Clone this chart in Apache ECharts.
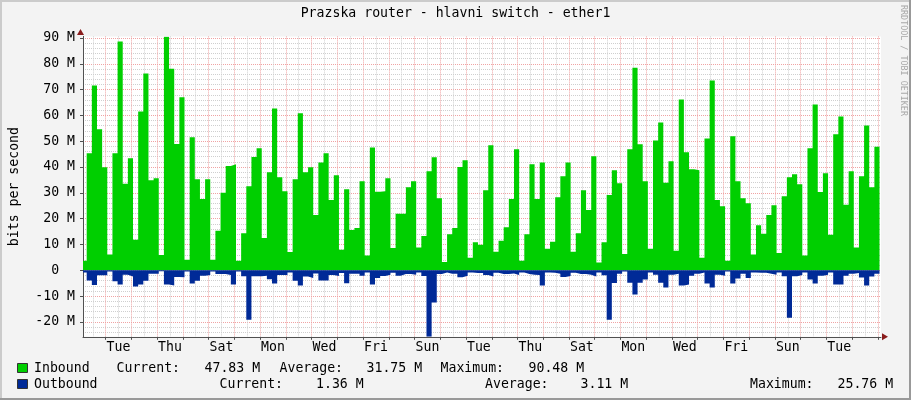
<!DOCTYPE html>
<html><head><meta charset="utf-8">
<script src="https://cdn.jsdelivr.net/npm/echarts@6/dist/echarts.min.js"></script>
<style>html,body{margin:0;padding:0;background:#f3f3f3}#c{width:911px;height:400px}</style>
</head><body><div id="c"></div>
<script>
// ---- data (hours are relative to the first midnight shown, Tue 00:00) ----
const TITLE = 'Prazska router - hlavni switch - ether1';
const Y_NAME = 'bits per second';
const STEP_HOURS = 4.8;
const FIRST_STEP_START = -22.47;
const X_MIN = -21.11, X_MAX = 722.9;
const Y_MIN = -25.75, Y_MAX = 90.6;

// Inbound, Mbit/s, one value per 4.8 h step
const INBOUND_M = [
 3.7,45.3,71.6,54.6,39.9,6.1,45.3,88.6,33.5,43.4,
 11.8,61.5,76.2,34.9,35.7,5.9,90.48,78.1,48.9,67.0,
 4.1,51.5,35.3,27.6,35.3,4.1,15.3,30.0,40.4,41.1,
 3.7,14.4,32.6,43.9,47.3,12.5,38.0,62.7,36.0,30.6,
 7.1,35.3,60.8,38.0,39.9,21.4,41.8,45.3,27.2,36.8,
 8.0,31.4,15.6,16.4,34.5,5.7,47.6,30.4,30.6,35.7,
 8.6,21.9,21.9,32.2,34.5,8.8,13.3,38.4,43.8,27.9,
 3.2,14.0,16.4,40.0,42.6,4.9,10.9,9.9,31.0,48.4,
 7.2,11.5,16.7,27.6,46.9,3.7,14.0,41.1,27.6,41.8,
 8.4,11.1,28.3,36.4,41.8,7.2,14.4,31.0,23.4,44.2,
 3.0,10.9,29.2,38.8,33.7,6.3,46.9,78.5,48.8,34.5,
 8.4,50.3,57.3,33.9,42.2,7.6,66.2,45.7,39.1,38.8,
 4.9,51.1,73.5,27.2,24.8,3.7,51.9,34.5,27.9,26.0,
 6.1,17.5,14.2,21.4,25.2,6.7,28.7,36.0,37.2,33.3,
 5.7,47.3,64.2,30.3,37.6,13.8,52.7,59.6,25.4,38.4,
 8.8,36.4,56.1,32.2,47.83
];
// Outbound, Mbit/s (drawn below zero)
const OUTBOUND_M = [
 0.8,3.9,5.7,1.9,1.9,0.5,4.2,5.5,1.7,2.4,
 6.3,5.5,4.0,1.3,1.3,0.4,5.5,5.9,2.6,2.7,
 0.5,5.1,4.0,2.1,1.8,0.5,1.4,1.4,1.8,5.5,
 0.5,2.3,19.1,2.3,2.3,2.1,3.5,5.1,1.8,1.8,
 0.8,4.0,5.9,2.4,3.0,1.2,3.9,3.9,1.8,2.2,
 1.0,5.0,1.3,1.3,2.1,0.8,5.5,3.0,2.2,1.7,
 0.9,2.1,1.4,1.4,1.7,0.8,2.2,25.76,12.5,1.4,
 0.8,1.3,1.3,2.7,2.1,0.8,1.0,1.0,1.8,2.4,
 0.9,1.4,1.4,1.2,1.8,0.8,1.4,1.7,1.8,5.9,
 0.8,0.9,1.3,2.6,2.2,0.9,1.4,1.4,1.7,2.4,
 0.8,1.9,19.1,4.9,1.3,0.5,4.8,9.4,4.8,3.6,
 0.8,1.7,4.8,6.7,1.7,1.3,5.9,5.5,2.1,1.3,
 0.8,5.1,6.7,1.7,2.1,0.5,5.1,3.2,1.3,3.0,
 0.8,0.9,0.9,1.3,1.7,0.8,2.3,18.4,2.3,1.8,
 0.8,3.6,5.1,2.1,1.7,0.8,5.5,5.5,2.1,1.3,
 1.0,2.8,5.9,2.4,1.36
];

const DAY_LABELS = ['Tue','Thu','Sat','Mon','Wed','Fri','Sun','Tue','Thu','Sat','Mon','Wed','Fri','Sun','Tue'];
const DAY_LABEL_HOURS = [12,60,108,156,204,252,300,348,396,444,492,540,588,636,684];
const Y_TICKS_M = [-20,-10,0,10,20,30,40,50,60,70,80,90];

const LEGEND_IN = {name:'Inbound', current:'47.83 M', average:'31.75 M', maximum:'90.48 M'};
const LEGEND_OUT = {name:'Outbound', current:'1.36 M', average:'3.11 M', maximum:'25.76 M'};
const WATERMARK = 'RRDTOOL / TOBI OETIKER';

// ---- colours / fonts ----
const C_IN = '#00CF00', C_OUT = '#002A97';
const MONO = '"DejaVu Sans Mono", monospace';
const FS = 13.2;

// ---- build ----
function stepData(vals, sign) {
  const d = vals.map((v, i) => [FIRST_STEP_START + i * STEP_HOURS, sign * v]);
  d.push([FIRST_STEP_START + vals.length * STEP_HOURS, sign * vals[vals.length - 1]]);
  return d;
}
const dayBounds = [], halfDays = [];
for (let h = -48; h <= 744; h += 24) { if (h >= X_MIN && h <= X_MAX) dayBounds.push(h); if (h + 12 >= X_MIN && h + 12 <= X_MAX) halfDays.push(h + 12); }
const yMinor = [];
for (let v = -24; v <= 90; v += 2) if (v % 10 !== 0) yMinor.push(v);

const RED = '#f0a3a3', GREY = '#cfcfcf';
const chart = echarts.init(document.getElementById('c'), null, {renderer: 'canvas'});

function txt(text, x, y, extra) {
  return Object.assign({type: 'text', x: x, y: y, silent: true,
    style: Object.assign({text: text, font: FS + 'px ' + MONO, fill: '#000', align: 'left', verticalAlign: 'middle'}, extra || {})});
}

chart.setOption({
  animation: false,
  backgroundColor: '#f3f3f3',
  grid: {left: 81, right: 30, top: 36.4, bottom: 63.2, show: true, backgroundColor: '#ffffff', borderWidth: 0},
  xAxis: [{
    type: 'value', min: X_MIN, max: X_MAX, position: 'bottom',
    axisLine: {show: true, onZero: false, lineStyle: {color: '#505050', width: 1}},
    axisTick: {show: true, customValues: dayBounds, length: 3, lineStyle: {color: '#505050'}},
    axisLabel: {show: true, customValues: DAY_LABEL_HOURS, margin: 4, color: '#000', fontFamily: MONO, fontSize: FS,
      formatter: v => { const i = DAY_LABEL_HOURS.findIndex(h => Math.abs(h - v) < 0.01); return i >= 0 ? DAY_LABELS[i] : ''; }},
    splitLine: {show: true, lineStyle: {color: RED, width: 1, type: [1, 1]}}
  }, {
    type: 'value', min: X_MIN, max: X_MAX, position: 'bottom',
    axisLine: {show: false}, axisLabel: {show: false},
    axisTick: {show: false, customValues: halfDays},
    splitLine: {show: true, lineStyle: {color: GREY, width: 1, type: [1, 1]}}
  }],
  yAxis: [{
    type: 'value', min: Y_MIN, max: Y_MAX, position: 'left',
    name: Y_NAME, nameLocation: 'middle', nameGap: 62, nameRotate: 90,
    nameTextStyle: {fontFamily: MONO, fontSize: FS, color: '#000'},
    axisLine: {show: true, onZero: false, lineStyle: {color: '#505050', width: 1}},
    axisTick: {show: true, customValues: Y_TICKS_M, length: 3, lineStyle: {color: '#505050'}},
    axisLabel: {show: true, customValues: Y_TICKS_M, margin: 8, color: '#000', fontFamily: MONO, fontSize: FS,
      formatter: v => v === 0 ? '0  ' : v + ' M'},
    splitLine: {show: true, lineStyle: {color: RED, width: 1, type: [1, 1]}}
  }, {
    type: 'value', min: Y_MIN, max: Y_MAX, position: 'left',
    axisLine: {show: false}, axisLabel: {show: false},
    axisTick: {show: false, customValues: yMinor},
    splitLine: {show: true, lineStyle: {color: GREY, width: 1, type: [1, 1]}}
  }],
  series: [{
    name: 'Inbound', type: 'line', step: 'end', xAxisIndex: 0, yAxisIndex: 0,
    data: stepData(INBOUND_M, 1), symbol: 'none', showSymbol: false, clip: true, z: 5,
    lineStyle: {width: 0, opacity: 0}, areaStyle: {color: C_IN, opacity: 1}
  }, {
    name: 'Outbound', type: 'line', step: 'end', xAxisIndex: 0, yAxisIndex: 0,
    data: stepData(OUTBOUND_M, -1), symbol: 'none', showSymbol: false, clip: true, z: 5,
    lineStyle: {width: 0, opacity: 0}, areaStyle: {color: C_OUT, opacity: 1}
  }],
  graphic: [
    // frame
    {type: 'line', silent: true, shape: {x1: 0, y1: 1, x2: 911, y2: 1}, style: {stroke: '#cbcbcb', lineWidth: 2}},
    {type: 'line', silent: true, shape: {x1: 1, y1: 0, x2: 1, y2: 400}, style: {stroke: '#cbcbcb', lineWidth: 2}},
    {type: 'line', silent: true, shape: {x1: 0, y1: 399, x2: 911, y2: 399}, style: {stroke: '#999999', lineWidth: 2}},
    {type: 'line', silent: true, shape: {x1: 910, y1: 0, x2: 910, y2: 400}, style: {stroke: '#999999', lineWidth: 2}},
    // arrows
    {type: 'polygon', silent: true, shape: {points: [[80.5, 29], [77, 35], [84, 35]]}, style: {fill: '#8a1c1c'}},
    {type: 'polygon', silent: true, shape: {points: [[888, 336.8], [882, 333.3], [882, 340.3]]}, style: {fill: '#8a1c1c'}},
    // title
    txt(TITLE, 455.5, 13.5, {align: 'center'}),
    // watermark
    Object.assign(txt(WATERMARK, 903, 5, {font: '8.4px ' + MONO, fill: '#a8a8a8'}), {rotation: -Math.PI / 2}),
    // legend
    {type: 'rect', silent: true, shape: {x: 17.5, y: 363.5, width: 10, height: 9}, style: {fill: C_IN, stroke: '#333', lineWidth: 1}},
    {type: 'rect', silent: true, shape: {x: 17.5, y: 379.5, width: 10, height: 9}, style: {fill: C_OUT, stroke: '#333', lineWidth: 1}},
    txt(LEGEND_IN.name, 34, 368.5),
    txt('Current:', 116.5, 368.5),
    txt(LEGEND_IN.current, 204.5, 368.5),
    txt('Average:', 279.5, 368.5),
    txt(LEGEND_IN.average, 366.5, 368.5),
    txt('Maximum:', 440.5, 368.5),
    txt(LEGEND_IN.maximum, 528.5, 368.5),
    txt(LEGEND_OUT.name, 34, 384.5),
    txt('Current:', 219.5, 384.5),
    txt(LEGEND_OUT.current, 316, 384.5),
    txt('Average:', 485, 384.5),
    txt(LEGEND_OUT.average, 580.5, 384.5),
    txt('Maximum:', 750, 384.5),
    txt(LEGEND_OUT.maximum, 837.5, 384.5)
  ]
});
</script></body></html>
